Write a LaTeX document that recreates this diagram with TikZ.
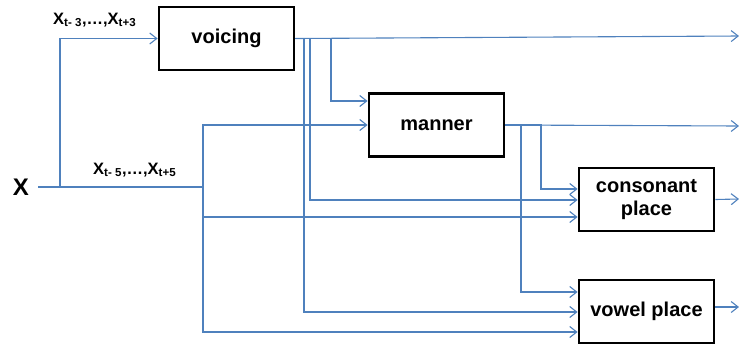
\documentclass[tikz,border=0pt]{standalone}
\usepackage{fontspec}
\setmainfont{Liberation Sans}
\usetikzlibrary{arrows.meta}
\definecolor{conn}{HTML}{4F81BD}
\begin{document}
\begin{tikzpicture}[x=1pt,y=-1pt,
  blk/.style={draw=black,line width=2.8pt,minimum width=135pt,minimum height=63pt,inner sep=0pt,align=center,font=\fontsize{20}{23}\selectfont\bfseries},
  wire/.style={draw=conn,line width=1.1pt},
  arr/.style={wire,-{Straight Barb[length=7pt,width=11pt,line width=1.1pt]}},
  lbl/.style={font=\fontsize{16.5}{18}\selectfont\bfseries,inner sep=0pt,anchor=base west}]
\useasboundingbox (0,0) rectangle (739,349);
% boxes
\node[blk] (voicing) at (226.5,38.5) {voicing};
\node[blk] (manner) at (436.5,125) {manner};
\node[blk] (cons) at (646.5,199.5) {consonant\\place};
\node[blk] (vowel) at (646.5,311.5) {vowel place};
% labels
\node[font=\fontsize{24}{26}\selectfont\bfseries,inner sep=0pt,anchor=base] (X) at (21,195) {X};
\node[lbl] (l1) at (53,24) {X\textsubscript{t- 3},…,X\textsubscript{t+3}};
\node[lbl] (l2) at (93,174) {X\textsubscript{t- 5},…,X\textsubscript{t+5}};
% coordinates
\coordinate (xs) at (38,187);
\coordinate (xa) at (60,187);
\coordinate (xb) at (203,187);
\coordinate (o1) at (739,36);
\coordinate (o2) at (739,126);
\coordinate (o3) at (739,199);
\coordinate (o4) at (739,307);
% input
\draw[wire] (xs) -- (xb);
\draw[arr] (xa) |- (voicing.west);
\draw[arr] (xb) |- (manner.west);
\draw[arr] (xb) |- (cons.west |- 0,217);
\draw[arr] (xb) |- (vowel.west |- 0,332);
% voicing outputs
\draw[arr] (voicing.east) -- (o1);
\draw[arr] (voicing.east) -| (331,101) -- (manner.west |- 0,101);
\draw[arr] (voicing.east) -| (310,200) -- (cons.west |- 0,200);
\draw[arr] (voicing.east) -| (304,312) -- (vowel.west |- 0,312);
% manner outputs
\draw[arr] (manner.east) -- (o2);
\draw[arr] (manner.east) -| (541,189) -- (cons.west |- 0,189);
\draw[arr] (manner.east) -| (521,292) -- (vowel.west |- 0,292);
% place outputs
\draw[arr] (cons.east) -- (o3);
\draw[arr] (vowel.east |- 0,307) -- (o4);
\end{tikzpicture}
\end{document}
